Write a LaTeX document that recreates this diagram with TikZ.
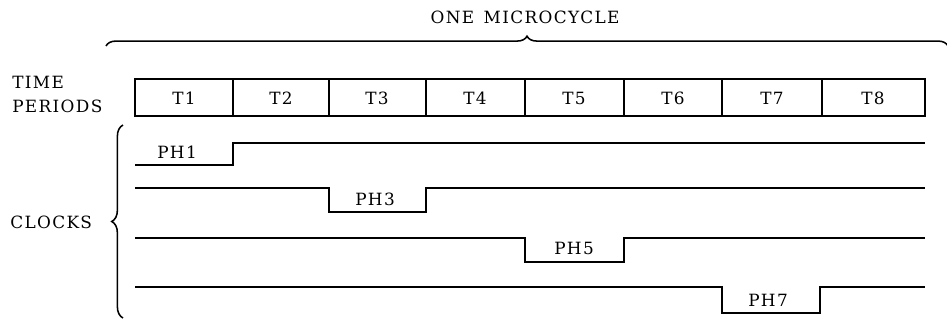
\documentclass[tikz,border=0pt]{standalone}
\usepackage{fontspec}
\setmainfont{DejaVu Serif}[LetterSpace=8]
\usetikzlibrary{decorations.pathreplacing}

\begin{document}
\begin{tikzpicture}[x=0.25mm, y=0.25mm]
\tikzstyle{every node}+=[inner sep=0pt, font=\fontsize{12}{14}\selectfont]
\tikzstyle{wave}=[black, line width=1.4pt]
\tikzstyle{cell}=[black, line width=1pt]
\tikzstyle{curly}=[black, line width=1.1pt, decorate]
\useasboundingbox (0,0) rectangle (947,-320);
% microcycle brace
\draw [curly, decoration={brace, amplitude=7pt}] (106,-46) -- (948,-46);
\node (cycle) at (525,-17) {ONE\, MICROCYCLE};
% time periods
\node [anchor=west] (time) at (12,-82) {TIME};
\node [anchor=west] (periods) at (12,-106) {PERIODS};
\draw [cell] (135,-79) rectangle (925,-116);
\draw [cell] (233,-79) -- (233,-116);
\draw [cell] (329,-79) -- (329,-116);
\draw [cell] (426,-79) -- (426,-116);
\draw [cell] (525,-79) -- (525,-116);
\draw [cell] (624,-79) -- (624,-116);
\draw [cell] (722,-79) -- (722,-116);
\draw [cell] (822,-79) -- (822,-116);
\node (t1) at (184,-98) {T1};
\node (t2) at (281,-98) {T2};
\node (t3) at (377,-98) {T3};
\node (t4) at (475,-98) {T4};
\node (t5) at (574,-98) {T5};
\node (t6) at (673,-98) {T6};
\node (t7) at (772,-98) {T7};
\node (t8) at (873,-98) {T8};
% clocks
\draw [curly, decoration={brace, amplitude=8pt}] (123,-318) -- (123,-125);
\node [anchor=west] (clocks) at (10,-222) {CLOCKS};
\draw [wave] (135,-165) -- (233,-165) -- (233,-143) -- (925,-143);
\node (ph1) at (177,-152) {PH1};
\draw [wave] (135,-188) -- (329,-188) -- (329,-212) -- (426,-212) -- (426,-188) -- (925,-188);
\node (ph3) at (375,-199) {PH3};
\draw [wave] (135,-238) -- (525,-238) -- (525,-262) -- (624,-262) -- (624,-238) -- (925,-238);
\node (ph5) at (574,-248) {PH5};
\draw [wave] (135,-287) -- (722,-287) -- (722,-313) -- (820,-313) -- (820,-287) -- (925,-287);
\node (ph7) at (768,-300) {PH7};
\end{tikzpicture}
\end{document}
